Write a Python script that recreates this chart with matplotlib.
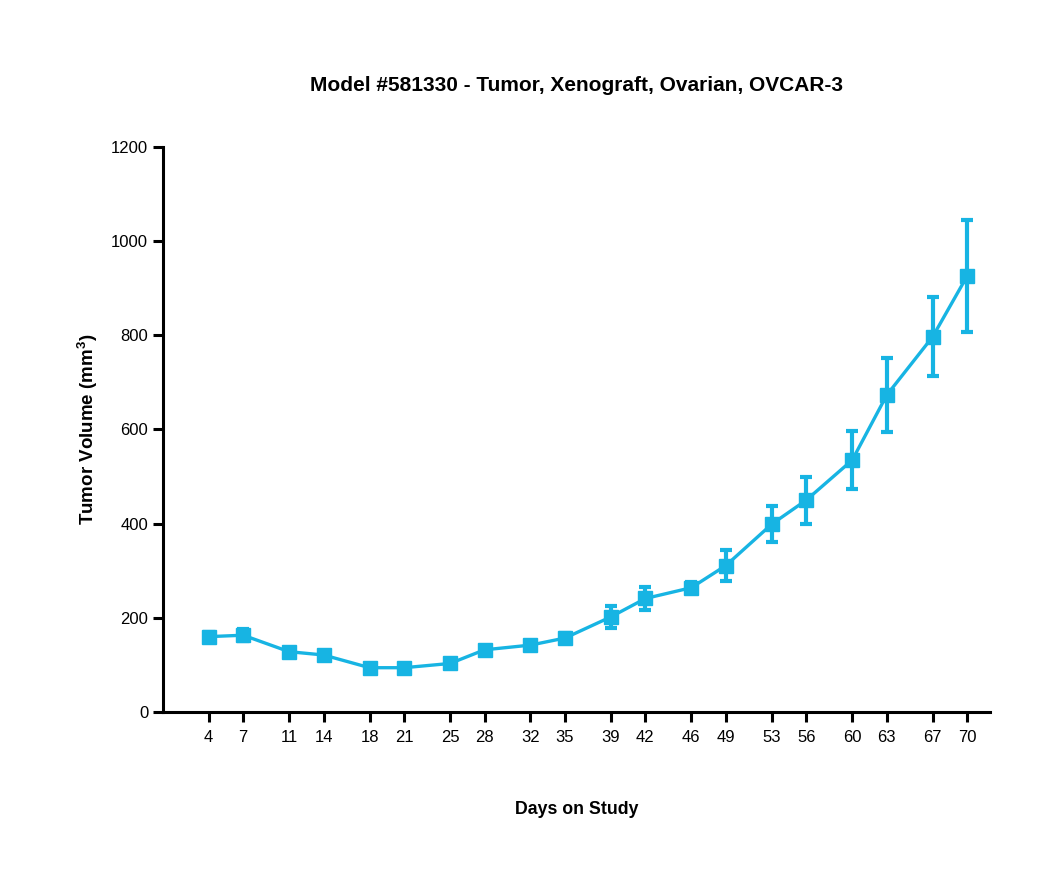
import numpy as np
import matplotlib
matplotlib.use('Agg')
import matplotlib.pyplot as plt


######################
days = [4, 7, 11, 14, 18, 21, 25, 28, 32, 35, 39, 42, 46, 49, 53, 56, 60, 63, 67, 70]
volume = [160, 163, 128, 121, 94, 94, 103, 132, 142, 157, 202, 241, 264, 311, 399, 450, 535, 673, 797, 926]
sem = [10, 13, 5, 4, 4, 4, 5, 6, 6, 10, 24, 25, 12, 32, 39, 50, 62, 79, 84, 120]
yticks = [0, 200, 400, 600, 800, 1000, 1200]
title = 'Model #581330 - Tumor, Xenograft, Ovarian, OVCAR-3'
colour = '#17b4e3'
######################

plt.rcParams['font.family'] = ['Liberation Sans', 'DejaVu Sans']
plt.rcParams['mathtext.fontset'] = 'custom'
plt.rcParams['mathtext.rm'] = 'Liberation Sans'
plt.rcParams['mathtext.bf'] = 'Liberation Sans:bold'


def plot():
    fig = plt.figure(figsize=(10.5, 8.74), dpi=100)
    ax = fig.add_axes([0.155, 0.1854, 0.788, 0.6464])

    ax.errorbar(days, volume, yerr=sem, color=colour, marker='s', markersize=10.5,
                linewidth=2.4, elinewidth=3, capsize=4.5, capthick=3)

    ax.set_xlim(0, 72)
    ax.set_ylim(0, 1200)
    ax.set_xticks(days)
    ax.set_yticks(yticks)
    ax.tick_params(axis='both', direction='out', length=7, width=2.2, labelsize=12)
    ax.tick_params(axis='x', pad=6)
    for side in ['top', 'right']:
        ax.spines[side].set_visible(False)
    for side in ['left', 'bottom']:
        ax.spines[side].set_linewidth(2.2)

    ax.set_title(title, fontsize=15, fontweight='bold', pad=40)
    ax.set_xlabel('Days on Study', fontsize=12.8, fontweight='bold', labelpad=40)
    ax.set_ylabel(r'Tumor Volume (mm$^{\mathbf{3}}$)', fontsize=13.5, fontweight='bold', labelpad=8)

    fig.savefig('out.png', dpi=100)


if __name__ == '__main__':
    plot()
